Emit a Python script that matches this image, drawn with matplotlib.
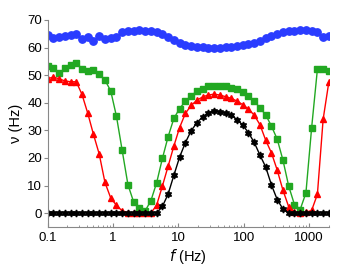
import numpy as np
import matplotlib
matplotlib.use("Agg")
import matplotlib.pyplot as plt

plt.rcParams['font.family'] = ['Liberation Sans', 'DejaVu Sans']

# frequencies (Hz), log spaced 0.1 .. 2000
f = np.logspace(-1, np.log10(2000), 50)

blue = [64.5, 63.5, 63.8, 64.2, 64.7, 64.8, 63.0, 63.8, 62.3, 64.2,
        63.0, 63.5, 64.0, 65.5, 65.9, 66.1, 66.2, 66.1, 65.9, 65.5,
        64.8, 63.8, 62.7, 61.8, 61.1, 60.6, 60.3, 60.1, 60.0, 60.0,
        60.0, 60.1, 60.3, 60.6, 60.9, 61.2, 61.7, 62.4, 63.3, 64.1,
        65.0, 65.6, 65.9, 66.1, 66.2, 66.2, 66.1, 65.8, 63.8, 64.1]

green = [53.3, 52.5, 50.6, 52.5, 53.5, 54.5, 52.3, 51.4, 51.8, 50.4,
         48.2, 44.3, 35.1, 22.7, 10.3, 4.0, 1.8, 0.8, 4.5, 11.0,
         19.8, 27.7, 34.3, 37.9, 40.5, 42.6, 44.1, 45.1, 45.9, 46.1,
         46.0, 46.0, 45.5, 44.8, 43.9, 42.4, 40.6, 38.1, 35.6, 31.5,
         26.8, 19.2, 9.8, 3.1, 1.3, 7.3, 31.0, 52.1, 52.1, 51.6]

red = [48.7, 49.3, 48.7, 47.9, 47.6, 47.6, 43.0, 36.2, 28.5, 21.4,
       11.1, 5.5, 2.8, 0.8, 0.2, 0.0, 0.0, 0.0, 0.0, 2.9,
       9.8, 17.0, 24.3, 31.0, 36.1, 39.0, 40.9, 42.1, 42.8, 43.1,
       42.8, 42.2, 41.6, 40.6, 39.3, 37.7, 35.5, 32.0, 26.4, 21.8,
       15.6, 8.3, 2.3, 0.5, 0.0, 0.3, 1.0, 6.8, 34.0, 47.6]

black = [0.0] * 20 + [2.4, 6.9, 13.7, 20.3, 25.5, 29.8, 32.7, 34.9, 36.3, 37.1,
                      36.7, 36.3, 35.5, 33.9, 31.9, 29.1, 25.6, 21.0, 16.7, 10.2,
                      4.9, 1.5] + [0.0] * 8

fig = plt.figure(figsize=(3.63, 2.66), dpi=100)
ax = fig.add_axes([0.131, 0.147, 0.775, 0.778])

ax.plot(f, blue, '-o', color='#2a3cff', ms=5.3, lw=1)
ax.plot(f, green, '-s', color='#22a822', ms=4, lw=1)
ax.plot(f, red, '-^', color='#ff0000', ms=5, lw=1)
ax.plot(f, black, '-', color='black', marker=(6, 1, 0), ms=5, lw=1)

ax.set_xscale('log')
ax.set_xlim(0.1, 2000)
ax.set_ylim(-5, 70)
ax.set_yticks([0, 10, 20, 30, 40, 50, 60, 70])
ax.set_xticks([0.1, 1, 10, 100, 1000])
ax.set_xticklabels(['0.1', '1', '10', '100', '1000'])

for s in ['top', 'right']:
    ax.spines[s].set_visible(False)
for s in ['left', 'bottom']:
    ax.spines[s].set_color('#888888')
    ax.spines[s].set_linewidth(0.8)

ax.tick_params(axis='y', direction='out', length=3, width=0.8, color='#888888', labelsize=9.5, pad=1)
ax.tick_params(axis='x', which='major', direction='in', length=3, width=0.8, color='#888888', labelsize=9.5, pad=4)
ax.tick_params(axis='x', which='minor', direction='in', length=1.5, width=0.6, color='#888888')

ax.set_ylabel('ν (Hz)', fontsize=10.5, labelpad=3)
ax.set_xlabel('$f$ (Hz)', fontsize=10.5, labelpad=2)

fig.savefig('out.png', dpi=100)
